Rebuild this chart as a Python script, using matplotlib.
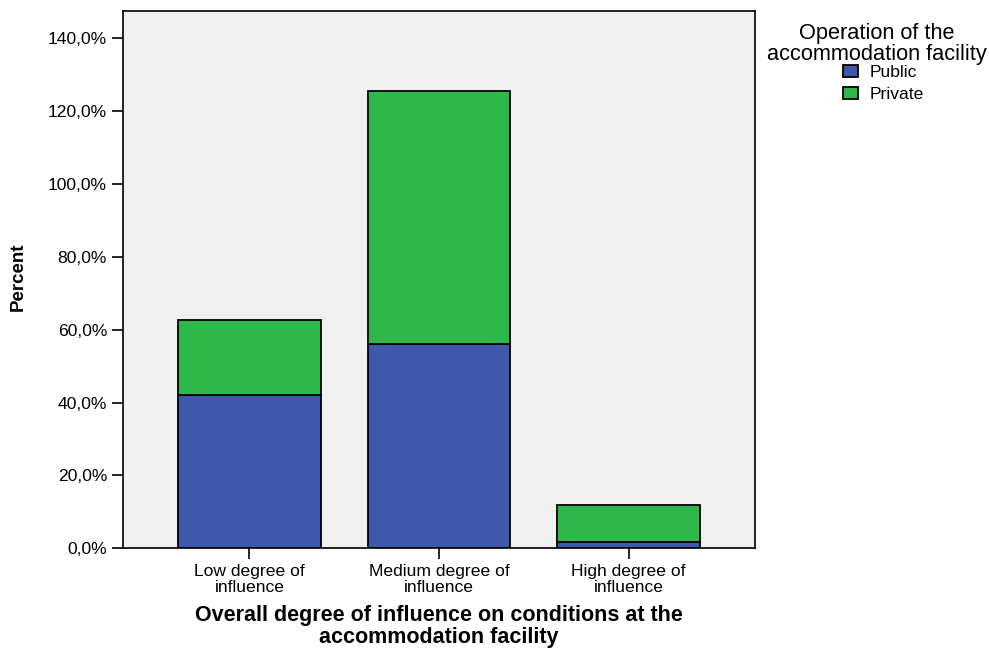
import matplotlib.pyplot as plt
from matplotlib.patches import Patch

plt.rcParams['font.family'] = ['Liberation Sans', 'DejaVu Sans']

categories = ["Low degree of\ninfluence", "Medium degree of\ninfluence", "High degree of\ninfluence"]
public = [42.1, 56.1, 1.6]
private = [20.5, 69.4, 10.3]
series_names = ["Public", "Private"]
colors = ["#3E58AC", "#2EB84B"]
yticks = [0, 20, 40, 60, 80, 100, 120, 140]

fig = plt.figure(figsize=(9.89, 6.48), dpi=100)
ax = fig.add_axes([0.1244, 0.1539, 0.6390, 0.8291])
ax.set_facecolor("#F0F0F0")

x = range(len(categories))
ax.bar(x, public, width=0.75, color=colors[0], edgecolor="black", linewidth=1.3, zorder=2)
ax.bar(x, private, width=0.75, bottom=public, color=colors[1], edgecolor="black", linewidth=1.3, zorder=2)

ax.set_xlim(-0.667, 2.667)
ax.set_ylim(0, 147.5)
ax.set_yticks(yticks)
ax.set_yticklabels([f"{v},0%" for v in yticks], fontsize=12.6)
ax.set_xticks(list(x))
ax.set_xticklabels(categories, fontsize=12.6, linespacing=1.12)
ax.tick_params(axis="both", direction="out", length=8, width=1.2, color="black")
ax.tick_params(axis="x", pad=3)
for s in ax.spines.values():
    s.set_linewidth(1.2)

ax.set_ylabel("Percent", fontsize=13.5, fontweight="bold")
ax.yaxis.set_label_coords(-0.153, 0.505)
ax.set_xlabel("Overall degree of influence on conditions at the\naccommodation facility",
              fontsize=15.5, fontweight="bold", linespacing=1.05, labelpad=7)

fig.text(0.887, 0.965, "Operation of the\naccommodation facility", ha="center", va="top",
         fontsize=15.7, linespacing=1.05)
handles = [Patch(facecolor=c, edgecolor="black", linewidth=1.3) for c in colors]
fig.legend(handles, series_names, loc="upper left", bbox_to_anchor=(0.844, 0.913),
           frameon=False, fontsize=12.6, handlelength=0.85, handleheight=0.65,
           handletextpad=0.65, labelspacing=0.42, borderpad=0)

fig.savefig("out.png", dpi=100)
